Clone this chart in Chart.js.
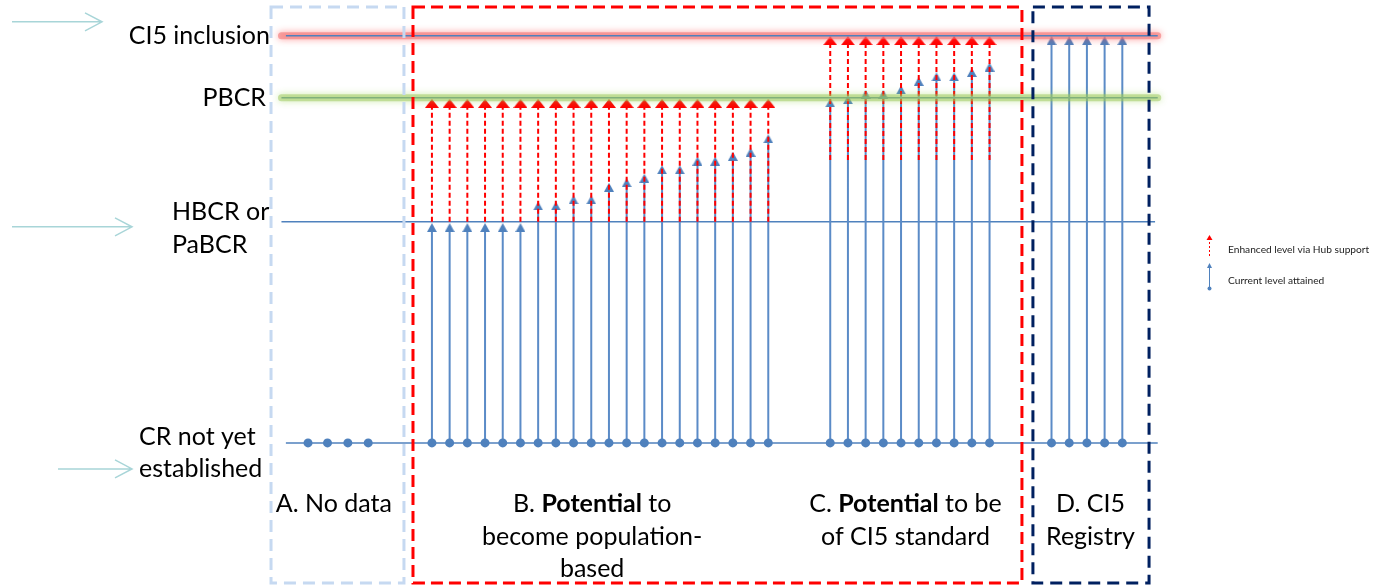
<!DOCTYPE html>
<html>
<head>
<meta charset="utf-8">
<script src="https://cdn.jsdelivr.net/npm/chart.js@4.4.1/dist/chart.umd.min.js"></script>
<style>
  html, body { margin: 0; padding: 0; background: #fff; }
  #wrap { width: 1379px; height: 585px; position: relative; }
</style>
</head>
<body>
<div id="wrap"><canvas id="myChart"></canvas></div>
<script>
// levels on the vertical axis (0 = no registry, 100 = CI5 inclusion)
const levelValues = [0, 54.3, 84.8, 100];
const levelLabels = [["CR not yet", "established"], ["HBCR or", "PaBCR"], ["PBCR"], ["CI5 inclusion"]];

// A. no data - registry slots only
const noDataX = [-6, -4.9, -3.75, -2.6];

// B. potential to become population-based
const groupBX = [1, 2, 3, 4, 5, 6, 7, 8, 9, 10, 11, 12, 13, 14, 15, 16, 17, 18, 19, 20];
const groupBCurrent = [52.9, 52.9, 52.9, 52.9, 52.9, 52.9, 58.2, 58.2, 59.7, 59.7, 62.8, 63.9, 65.0, 67.1, 67.1, 69.2, 69.2, 70.4, 71.4, 74.7];
const groupBStart = [54.3, 54.3, 54.3, 54.3, 54.3, 54.3, 54.3, 54.3, 54.3, 54.3, 54.3, 54.3, 54.3, 54.3, 54.3, 54.3, 54.3, 54.3, 54.3, 54.3];
const groupBTarget = [83.4, 83.4, 83.4, 83.4, 83.4, 83.4, 83.4, 83.4, 83.4, 83.4, 83.4, 83.4, 83.4, 83.4, 83.4, 83.4, 83.4, 83.4, 83.4, 83.4];

// C. potential to be of CI5 standard
const groupCX = [23.5, 24.5, 25.5, 26.5, 27.5, 28.5, 29.5, 30.5, 31.5, 32.5];
const groupCCurrent = [83.5, 84.3, 85.6, 85.6, 86.7, 88.8, 89.9, 89.9, 91.0, 92.3];
const groupCStart = [69.5, 69.5, 69.5, 69.5, 69.5, 69.5, 69.5, 69.5, 69.5, 69.5];
const groupCTarget = [98.8, 98.8, 98.8, 98.8, 98.8, 98.8, 98.8, 98.8, 98.8, 98.8];

// D. CI5 registry
const groupDX = [36, 37, 38, 39, 40];
const groupDCurrent = [98.8, 98.8, 98.8, 98.8, 98.8];

const regionLabels = [["A. No data"], ["B. **Potential** to", "become population-", "based"], ["C. **Potential** to be", "of CI5 standard"], ["D. CI5", "Registry"]];
const legendLabels = ["Enhanced level via Hub support", "Current level attained"];

const BLUE = "#4f81bd";
const RED = "#ff0000";
const FONT = "Lato, 'Open Sans', sans-serif";

function makeTriangle(w, h, color) {
  const c = document.createElement("canvas");
  c.width = w;
  c.height = h;
  const g = c.getContext("2d");
  g.fillStyle = color;
  g.beginPath();
  g.moveTo(w / 2, 0);
  g.lineTo(w, h);
  g.lineTo(0, h);
  g.closePath();
  g.fill();
  return c;
}
const blueTip = makeTriangle(10, 9, BLUE);
const redTip = makeTriangle(14, 9, RED);

function stems(xs, bottoms, tops) {
  const pts = [];
  xs.forEach((x, i) => {
    pts.push({ x: x, y: bottoms[i] });
    pts.push({ x: x, y: tops[i] });
    pts.push({ x: x, y: null });
  });
  return pts;
}

const stemX = groupBX.concat(groupCX, groupDX);
const stemTop = groupBCurrent.concat(groupCCurrent, groupDCurrent);
const stemBottom = stemX.map(() => levelValues[0]);

function levelLine(value, x0, x1) {
  return [{ x: x0, y: value }, { x: x1, y: value }];
}

const glowPlugin = {
  id: "glow",
  beforeDatasetDraw(chart, args) {
    const ds = chart.data.datasets[args.index];
    if (ds.glow) {
      chart.ctx.save();
      chart.ctx.shadowColor = ds.glow;
      chart.ctx.shadowBlur = 7;
    }
  },
  afterDatasetDraw(chart, args) {
    if (chart.data.datasets[args.index].glow) chart.ctx.restore();
  },
};

function richLine(ctx, line, cx, cy, size) {
  const parts = line.split("**");
  let total = 0;
  parts.forEach((p, i) => {
    ctx.font = (i % 2 ? "bold " : "") + size + "px " + FONT;
    total += ctx.measureText(p).width;
  });
  let x = cx - total / 2;
  parts.forEach((p, i) => {
    ctx.font = (i % 2 ? "bold " : "") + size + "px " + FONT;
    ctx.fillText(p, x, cy);
    x += ctx.measureText(p).width;
  });
}

function sideArrow(ctx, x0, x1, y) {
  ctx.save();
  ctx.strokeStyle = "#a8d5d8";
  ctx.lineWidth = 1.5;
  ctx.beginPath();
  ctx.moveTo(x0, y);
  ctx.lineTo(x1, y);
  ctx.moveTo(x1 - 17, y - 9);
  ctx.lineTo(x1, y);
  ctx.lineTo(x1 - 17, y + 9);
  ctx.stroke();
  ctx.restore();
}

const decorPlugin = {
  id: "decor",
  afterDatasetsDraw(chart) {
    const { ctx, scales: { x, y } } = chart;
    const boxes = [
      [-8.09, -0.58, "#c6d9f1", [12, 7]],
      [-0.07, 34.33, RED, [12, 6]],
      [34.95, 41.51, "#002060", [12, 7]],
    ];
    ctx.save();
    ctx.lineWidth = 3;
    boxes.forEach(([a, b, color, dash]) => {
      ctx.strokeStyle = color;
      ctx.setLineDash(dash);
      const l = x.getPixelForValue(a), r = x.getPixelForValue(b);
      const t = y.getPixelForValue(107.1), btm = y.getPixelForValue(-34.4);
      ctx.strokeRect(l, t, r - l, btm - t);
    });
    ctx.restore();
  },
  afterDraw(chart) {
    const { ctx, scales: { x, y } } = chart;
    ctx.save();
    ctx.fillStyle = "#000";
    ctx.textBaseline = "middle";

    // level names on the left
    const size = 25;
    ctx.font = size + "px " + FONT;
    ctx.textAlign = "right";
    ctx.fillText(levelLabels[3][0], 270, y.getPixelForValue(levelValues[3]));
    ctx.fillText(levelLabels[2][0], 266, y.getPixelForValue(levelValues[2]));
    ctx.textAlign = "left";
    const hb = y.getPixelForValue(levelValues[1]);
    ctx.fillText(levelLabels[1][0], 172, hb - 10);
    ctx.fillText(levelLabels[1][1], 172, hb + 23);
    const cr = y.getPixelForValue(levelValues[0]);
    ctx.fillText(levelLabels[0][0], 139, cr - 6);
    ctx.fillText(levelLabels[0][1], 139, cr + 26);

    sideArrow(ctx, 12, 102, y.getPixelForValue(levelValues[3]) - 14);
    sideArrow(ctx, 12, 132, hb + 5);
    sideArrow(ctx, 58, 132, cr + 26);

    // region captions
    ctx.textAlign = "left";
    const centers = [-4.54, 10.05, 27.75, 38.2];
    regionLabels.forEach((lines, i) => {
      const cx = x.getPixelForValue(centers[i]);
      lines.forEach((line, j) => richLine(ctx, line, cx, 504 + j * 32.5, size));
    });

    // legend
    ctx.font = "10.2px " + FONT;
    ctx.fillStyle = "#222";
    ctx.fillText(legendLabels[0], 1228, 250);
    ctx.fillText(legendLabels[1], 1228, 281);
    ctx.strokeStyle = RED;
    ctx.lineWidth = 1;
    ctx.setLineDash([2, 2]);
    ctx.beginPath();
    ctx.moveTo(1209.5, 256);
    ctx.lineTo(1209.5, 239);
    ctx.stroke();
    ctx.setLineDash([]);
    ctx.fillStyle = RED;
    ctx.beginPath();
    ctx.moveTo(1209.5, 235);
    ctx.lineTo(1212.5, 240);
    ctx.lineTo(1206.5, 240);
    ctx.fill();
    ctx.strokeStyle = BLUE;
    ctx.beginPath();
    ctx.moveTo(1209.5, 288);
    ctx.lineTo(1209.5, 267);
    ctx.stroke();
    ctx.fillStyle = BLUE;
    ctx.beginPath();
    ctx.moveTo(1209.5, 263);
    ctx.lineTo(1212, 268);
    ctx.lineTo(1207, 268);
    ctx.fill();
    ctx.beginPath();
    ctx.arc(1209.5, 288.5, 2, 0, Math.PI * 2);
    ctx.fill();
    ctx.restore();
  },
};

const ctxEl = document.getElementById("myChart");

const myChart = new Chart(ctxEl, {
  type: "line",
  data: {
    datasets: [
      {
        label: "CR baseline",
        data: levelLine(levelValues[0], -7.25, 42),
        borderColor: BLUE,
        borderWidth: 1.5,
        pointRadius: 0,
        order: 9,
      },
      {
        label: "HBCR",
        data: levelLine(levelValues[1], -7.5, 41.85),
        borderColor: BLUE,
        borderWidth: 1.5,
        pointRadius: 0,
        order: 9,
      },
      {
        label: "PBCR line",
        data: levelLine(levelValues[2], -7.5, 42),
        borderColor: BLUE,
        borderWidth: 1.5,
        pointRadius: 0,
        order: 9,
      },
      {
        label: "Current level",
        data: stems(stemX, stemBottom, stemTop),
        borderColor: "#5b8bc7",
        borderWidth: 2,
        spanGaps: false,
        pointStyle: (c) => (c.dataIndex % 3 === 1 ? blueTip : "circle"),
        pointRadius: (c) => (c.dataIndex % 3 === 1 ? 5 : 4.5),
        pointBackgroundColor: BLUE,
        pointBorderWidth: 0,
        order: 6,
      },
      {
        label: "No data",
        data: noDataX.map((v) => ({ x: v, y: levelValues[0] })),
        showLine: false,
        pointRadius: 4.5,
        pointBackgroundColor: BLUE,
        pointBorderWidth: 0,
        order: 6,
      },
      {
        label: "Enhanced level",
        data: stems(groupBX, groupBStart, groupBTarget).concat(stems(groupCX, groupCStart, groupCTarget)),
        borderColor: RED,
        borderWidth: 2,
        borderDash: [5, 3],
        spanGaps: false,
        pointStyle: redTip,
        pointRadius: (c) => (c.dataIndex % 3 === 1 ? 5 : 0),
        order: 5,
      },
      {
        label: "PBCR glow",
        data: levelLine(levelValues[2], -7.5, 42),
        borderColor: "rgba(155, 200, 90, 0.5)",
        borderWidth: 7,
        borderCapStyle: "round",
        glow: "rgba(150, 210, 80, 0.9)",
        pointRadius: 0,
        order: 2,
      },
      {
        label: "CI5 glow",
        data: levelLine(levelValues[3], -7.5, 42),
        borderColor: "rgba(240, 110, 110, 0.55)",
        borderWidth: 7,
        borderCapStyle: "round",
        glow: "rgba(255, 60, 60, 0.9)",
        pointRadius: 0,
        order: 2,
      },
      {
        label: "CI5 line",
        data: levelLine(levelValues[3], -7.25, 42),
        borderColor: BLUE,
        borderWidth: 1.5,
        pointRadius: 0,
        order: 1,
      },
    ],
  },
  options: {
    responsive: true,
    maintainAspectRatio: false,
    animation: false,
    events: [],
    layout: { padding: 0, autoPadding: false },
    plugins: {
      legend: { display: false },
      tooltip: { enabled: false },
    },
    scales: {
      x: { type: "linear", min: -23.4, max: 54.5, display: false },
      y: { min: -34.9, max: 108.8, display: false },
    },
  },
  plugins: [glowPlugin, decorPlugin],
});
</script>
</body>
</html>
